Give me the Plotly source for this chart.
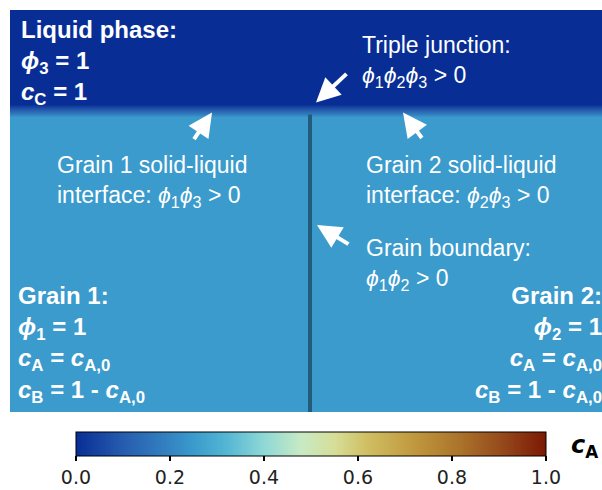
import plotly.graph_objects as go

# Vertical concentration profile of component A through the domain (solid -> liquid)
y_profile = [0, 147, 150, 153, 200]
cA_profile = [0.25, 0.25, 0.125, 0.0, 0.0]
x_grid = [0, 300]

# Grain boundary between grain 1 and grain 2
gb_x = [150, 150]
gb_y = [0, 148]

cbar_ticks = [0.0, 0.2, 0.4, 0.6, 0.8, 1.0]

# roma-like colour scale (blue -> cyan -> cream -> ochre -> brown)
roma = [
    [0.00, "rgb(8,46,150)"],
    [0.10, "rgb(38,92,174)"],
    [0.20, "rgb(52,132,194)"],
    [0.25, "rgb(58,155,204)"],
    [0.32, "rgb(84,182,212)"],
    [0.40, "rgb(142,216,214)"],
    [0.48, "rgb(200,234,196)"],
    [0.55, "rgb(214,222,152)"],
    [0.62, "rgb(208,190,98)"],
    [0.72, "rgb(192,152,62)"],
    [0.82, "rgb(170,114,42)"],
    [0.91, "rgb(148,72,26)"],
    [1.00, "rgb(124,24,4)"],
]

z = [[c, c] for c in cA_profile]

fig = go.Figure()
fig.add_trace(go.Heatmap(
    x=x_grid, y=y_profile, z=z,
    zmin=0, zmax=1, zsmooth="best",
    colorscale=roma,
    hoverinfo="skip",
    colorbar=dict(
        orientation="h",
        lenmode="pixels", len=470, thickness=24,
        x=0.5084, xanchor="center",
        y=-0.05, yanchor="top",
        xpad=0, ypad=0,
        outlinewidth=1, outlinecolor="black",
        ticks="outside", ticklen=5, tickwidth=1.5, tickcolor="black",
        tickvals=cbar_ticks, tickformat=".1f",
        tickfont=dict(family="DejaVu Sans", size=19, color="#222"),
    ),
))

fig.add_trace(go.Scatter(
    x=gb_x, y=gb_y, mode="lines",
    line=dict(color="rgb(34,92,122)", width=4),
    hoverinfo="skip", showlegend=False,
))

WHITE = "white"
bold_font = dict(family="Liberation Sans", size=24, color=WHITE)
reg_font = dict(family="Liberation Sans", size=23, color=WHITE)
phi = "<i>ϕ</i>"

labels = [
    dict(x=4.5, y=198, text="<b>Liquid phase:<br>" + "<i>ϕ</i><sub>3</sub> = 1<br><i>c</i><sub>C</sub> = 1</b>",
         font=bold_font, xanchor="left", align="left"),
    dict(x=175, y=190, text="Triple junction:<br>" + phi + "<sub>1</sub>" + phi + "<sub>2</sub>" + phi + "<sub>3</sub> > 0",
         font=reg_font, xanchor="left", align="left"),
    dict(x=22.5, y=130.5, text="Grain 1 solid-liquid<br>interface: " + phi + "<sub>1</sub>" + phi + "<sub>3</sub> > 0",
         font=reg_font, xanchor="left", align="left"),
    dict(x=177, y=130.5, text="Grain 2 solid-liquid<br>interface: " + phi + "<sub>2</sub>" + phi + "<sub>3</sub> > 0",
         font=reg_font, xanchor="left", align="left"),
    dict(x=177, y=89, text="Grain boundary:<br>" + phi + "<sub>1</sub>" + phi + "<sub>2</sub> > 0",
         font=reg_font, xanchor="left", align="left"),
    dict(x=3, y=65.5, text="<b>Grain 1:<br><i>ϕ</i><sub>1</sub> = 1<br><i>c</i><sub>A</sub> = <i>c</i><sub>A,0</sub><br>"
         "<i>c</i><sub>B</sub> = 1 - <i>c</i><sub>A,0</sub></b>",
         font=bold_font, xanchor="left", align="left"),
]
for lab in labels:
    fig.add_annotation(xref="x", yref="y", yanchor="top", showarrow=False, **lab)

# Grain 2 block is right-aligned against the right edge of the domain
fig.add_annotation(xref="paper", yref="y", x=1.0034, y=65.5, xanchor="right", yanchor="top",
                   align="right", showarrow=False, font=bold_font,
                   text="<b>Grain 2:<br><i>ϕ</i><sub>2</sub> = 1<br><i>c</i><sub>A</sub> = <i>c</i><sub>A,0</sub><br>"
                        "<i>c</i><sub>B</sub> = 1 - <i>c</i><sub>A,0</sub></b>")

# Colour bar label
fig.add_annotation(xref="paper", yref="paper", x=0.9696, y=-0.085, xanchor="center", yanchor="middle",
                   showarrow=False, text="<b><i>c</i><sub>A</sub></b>",
                   font=dict(family="DejaVu Sans", size=24, color="black"))

# Arrows pointing at the interfaces (tip in data units, tail offset in pixels)
arrows = [
    (153, 154, 32, -30),
    (101, 149, -19, 28),
    (196.5, 149, 20, 27),
    (153.5, 93, 33, 20),
]
for ax_tip, ay_tip, dx, dy in arrows:
    fig.add_annotation(x=ax_tip, y=ay_tip, xref="x", yref="y", text="",
                       showarrow=True, ax=dx, ay=dy, arrowhead=2, arrowsize=1.2,
                       arrowwidth=4, arrowcolor=WHITE, standoff=0, startstandoff=0)

fig.update_xaxes(range=[0, 296], visible=False, fixedrange=True)
fig.update_yaxes(range=[0, 200], visible=False, fixedrange=True)
fig.update_layout(
    width=602, height=490,
    margin=dict(l=10, r=0, t=10, b=78, autoexpand=False),
    paper_bgcolor="white", plot_bgcolor="white",
    showlegend=False,
)

fig.write_html("out.html")
